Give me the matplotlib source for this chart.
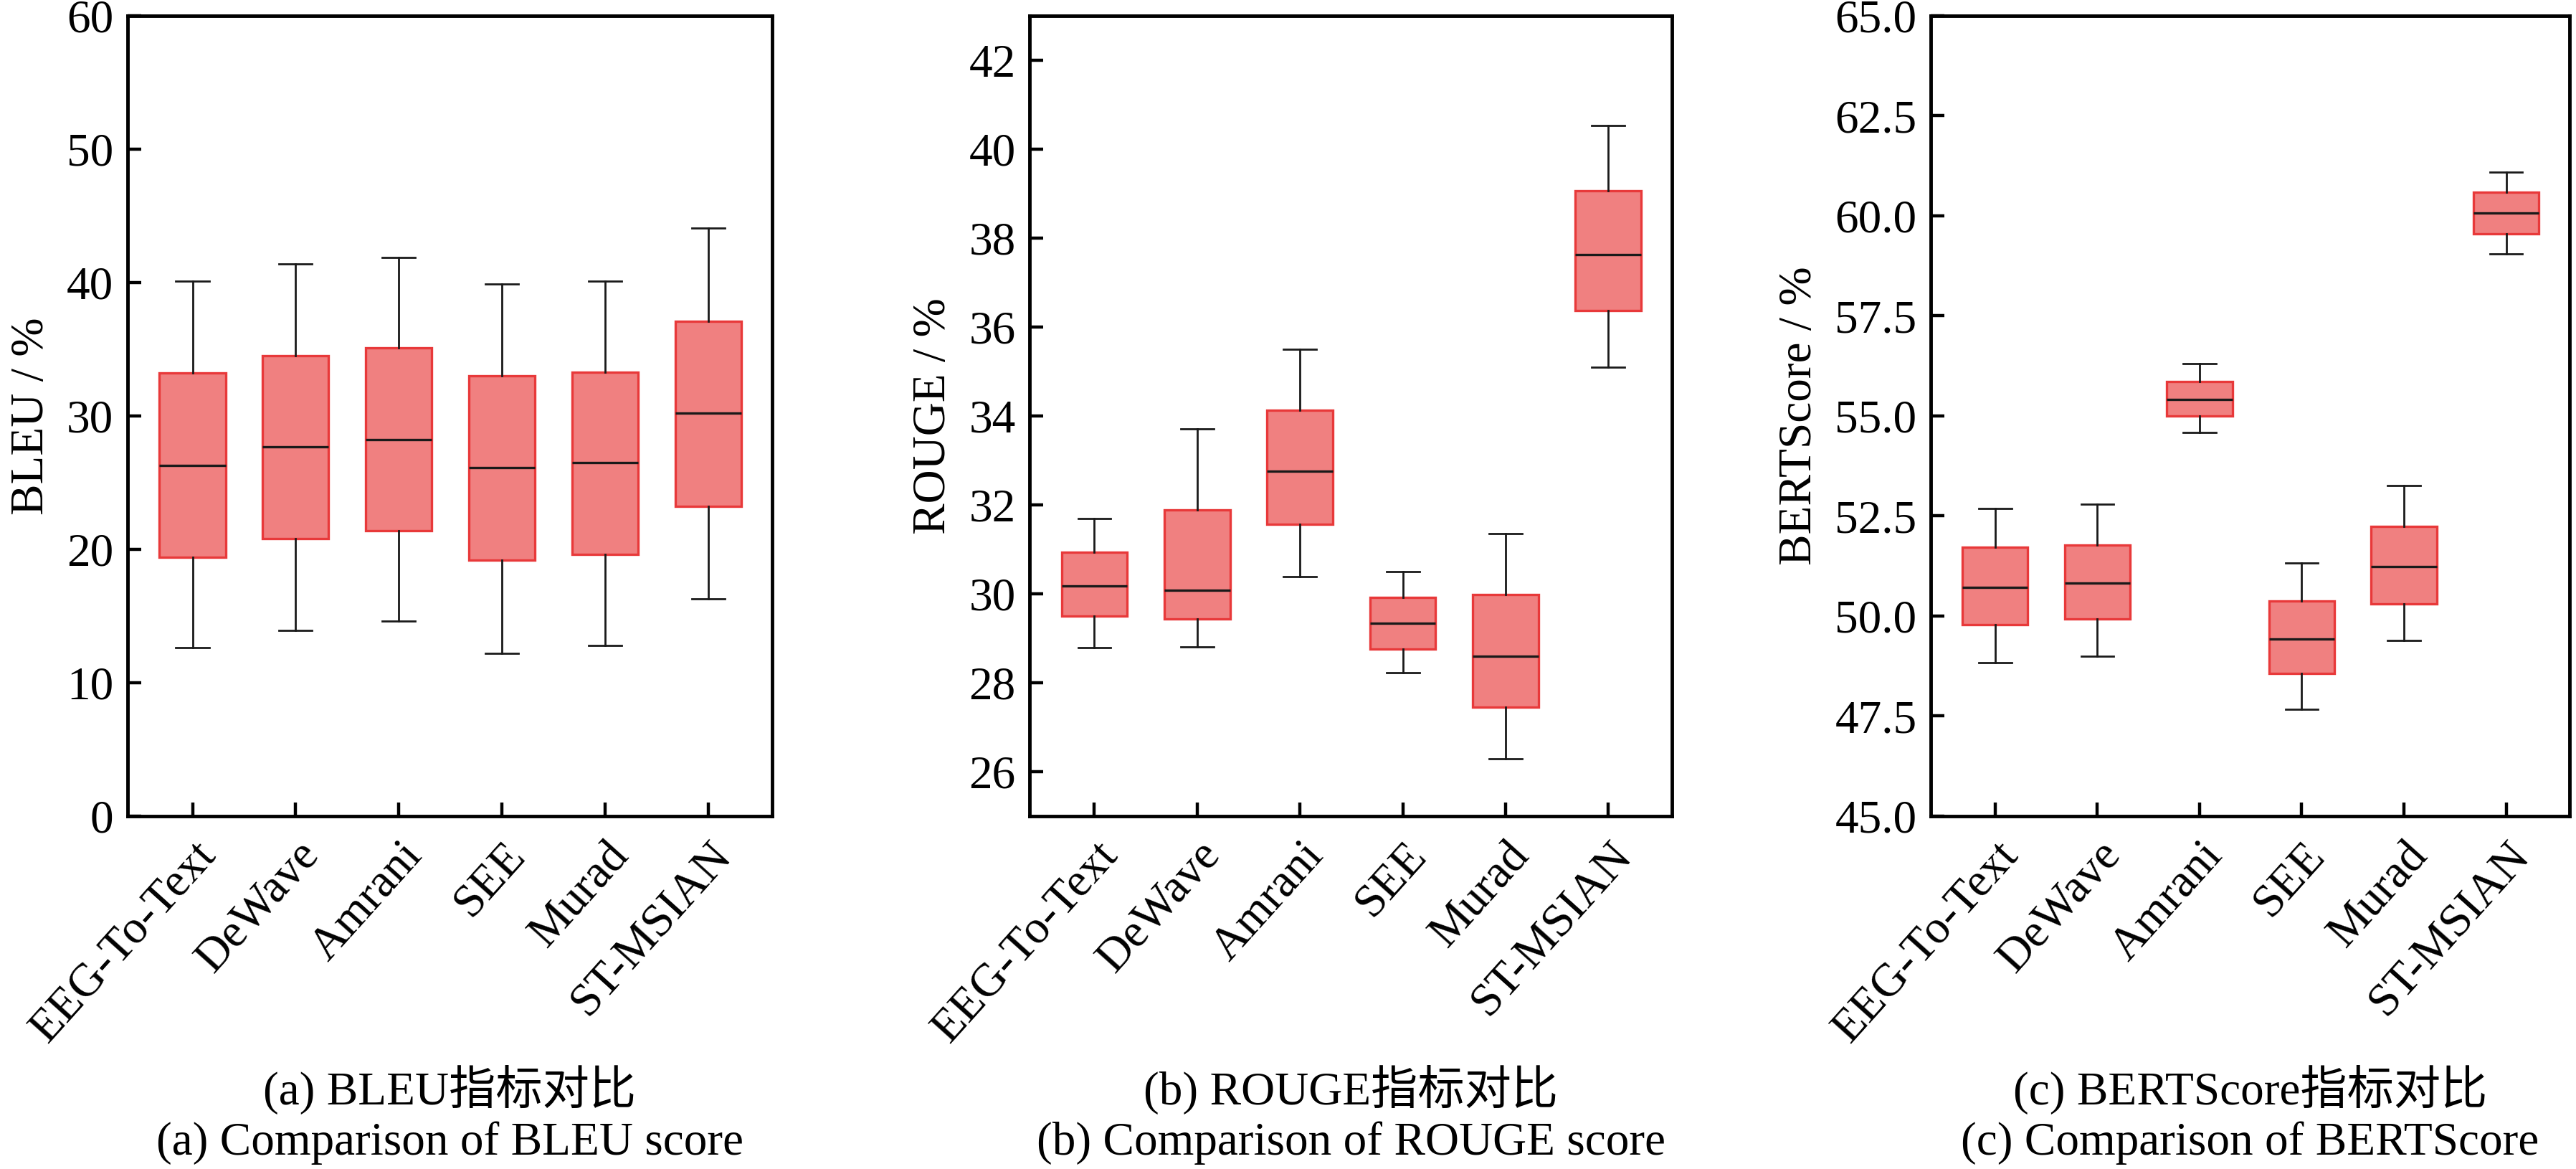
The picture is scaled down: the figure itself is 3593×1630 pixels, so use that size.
import numpy as np
import matplotlib
matplotlib.use('Agg')
import matplotlib.pyplot as plt

plt.rcParams['font.family'] = ['Liberation Serif', 'Noto Sans CJK SC']
plt.rcParams['mathtext.fontset'] = 'stix'

methods = ['EEG-To-Text', 'DeWave', 'Amrani', 'SEE', 'Murad', 'ST-MSIAN']

# BLEU (whisker low, Q1, median, Q3, whisker high)
bleu_low = [12.6, 13.9, 14.6, 12.2, 12.8, 16.3]
bleu_q1 = [19.4, 20.8, 21.4, 19.2, 19.6, 23.2]
bleu_med = [26.3, 27.7, 28.2, 26.1, 26.5, 30.2]
bleu_q3 = [33.2, 34.5, 35.1, 33.0, 33.3, 37.1]
bleu_high = [40.1, 41.4, 41.9, 39.9, 40.1, 44.1]

# ROUGE
rouge_low = [28.79, 28.81, 30.39, 28.23, 26.28, 35.10]
rouge_q1 = [29.49, 29.44, 31.56, 28.76, 27.44, 36.37]
rouge_med = [30.17, 30.07, 32.75, 29.34, 28.59, 37.62]
rouge_q3 = [30.93, 31.89, 34.12, 29.91, 29.98, 39.07]
rouge_high = [31.69, 33.70, 35.50, 30.50, 31.35, 40.53]

# BERTScore
bert_low = [48.84, 48.99, 54.59, 47.66, 49.39, 59.04]
bert_q1 = [49.78, 49.92, 54.99, 48.57, 50.31, 59.55]
bert_med = [50.71, 50.82, 55.41, 49.43, 51.24, 60.07]
bert_q3 = [51.71, 51.78, 55.85, 50.37, 52.23, 60.59]
bert_high = [52.69, 52.80, 56.30, 51.33, 53.25, 61.09]

ylabels = ['BLEU / %', 'ROUGE / %', 'BERTScore / %']
captions_cn = ['(a) BLEU指标对比', '(b) ROUGE指标对比', '(c) BERTScore指标对比']
captions_en = ['(a) Comparison of BLEU score', '(b) Comparison of ROUGE score',
               '(c) Comparison of BERTScore']
ylims = [(0, 60), (25, 43), (45, 65)]
yticks = [np.arange(0, 61, 10), np.arange(26, 43, 2), np.arange(45, 65.1, 2.5)]
yfmt = ['{:.0f}', '{:.0f}', '{:.1f}']

data = [
    (bleu_low, bleu_q1, bleu_med, bleu_q3, bleu_high),
    (rouge_low, rouge_q1, rouge_med, rouge_q3, rouge_high),
    (bert_low, bert_q1, bert_med, bert_q3, bert_high),
]

fig = plt.figure(figsize=(35.93, 16.30), dpi=100)
lefts = [0.0495, 0.3997, 0.7495]
widths = [0.2503, 0.2494, 0.248]
fs = 47

for k in range(3):
    ax = fig.add_axes([lefts[k], 0.302, widths[k], 0.6845])
    low, q1, med, q3, high = data[k]
    stats = []
    for i in range(len(methods)):
        stats.append({'whislo': low[i], 'q1': q1[i], 'med': med[i],
                      'q3': q3[i], 'whishi': high[i], 'fliers': []})
    ax.bxp(stats, positions=np.arange(1, 7), widths=0.64, patch_artist=True,
           showfliers=False,
           boxprops=dict(facecolor='#f08080', edgecolor='#e8393a', linewidth=2.4),
           medianprops=dict(color='#1a1a1a', linewidth=2.4),
           whiskerprops=dict(color='#1a1a1a', linewidth=2.0),
           capprops=dict(color='#1a1a1a', linewidth=2.0),
           capwidths=0.32)
    ax.set_xlim(0.37, 6.62)
    ax.set_ylim(*ylims[k])
    ax.set_yticks(yticks[k])
    ax.set_yticklabels([yfmt[k].format(v) for v in yticks[k]], fontsize=fs)
    ax.set_xticks(np.arange(1, 7))
    ax.set_xticklabels(methods, fontsize=fs, rotation=48, ha='right',
                       rotation_mode='anchor')
    ax.tick_params(direction='in', length=14, width=3.2, pad=14)
    ax.tick_params(axis='x', pad=18)
    for sp in ax.spines.values():
        sp.set_linewidth(3.5)
    ax.set_ylabel(ylabels[k], fontsize=fs, labelpad=14)
    cx = lefts[k] + widths[k] / 2
    fig.text(cx, 0.068, captions_cn[k], fontsize=fs, ha='center', va='center')
    fig.text(cx, 0.022, captions_en[k], fontsize=fs, ha='center', va='center')

fig.savefig('out.png', dpi=100)
